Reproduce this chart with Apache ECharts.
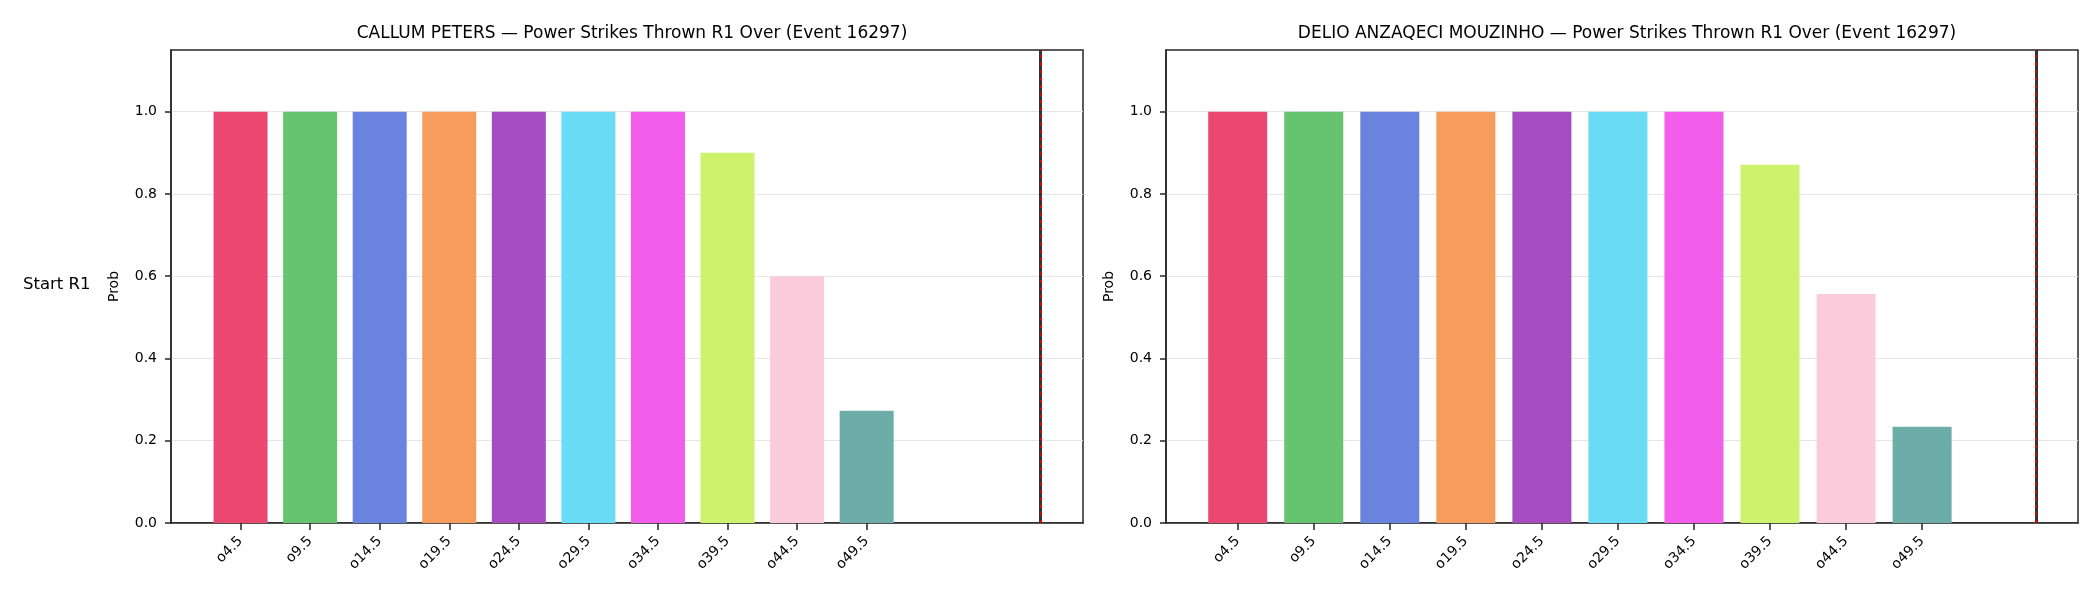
<!DOCTYPE html>
<html>
<head>
<meta charset="utf-8">
<script src="https://cdn.jsdelivr.net/npm/echarts@6/dist/echarts.min.js"></script>
<style>
  html, body { margin: 0; padding: 0; background: #fff; }
  #chart { width: 2100px; height: 600px; }
</style>
</head>
<body>
<div id="chart"></div>
<script>
// over lines (x-axis categories)
const thresholds = ['o4.5', 'o9.5', 'o14.5', 'o19.5', 'o24.5', 'o29.5', 'o34.5', 'o39.5', 'o44.5', 'o49.5'];
const callumProbs = [1.0, 1.0, 1.0, 1.0, 1.0, 1.0, 1.0, 0.9, 0.6, 0.273];
const delioProbs = [1.0, 1.0, 1.0, 1.0, 1.0, 1.0, 1.0, 0.871, 0.557, 0.234];
const barColors = ['#eb4871', '#66c470', '#6a83de', '#f69c5d', '#a54cc1',
                   '#69dbf4', '#f25dea', '#cef26b', '#f9cbdb', '#6dada7'];
const yTicks = [0, 0.2, 0.4, 0.6, 0.8, 1.0];
// where the dashed marker sits, in bar-index units
const callumMarker = 11.5;
const delioMarker = 10.5;

const FONT = 'DejaVu Sans';
const INK = '#262626';

const chart = echarts.init(document.getElementById('chart'));

function xAxisFor(gridIndex, min, max) {
  return {
    type: 'value',
    gridIndex,
    min, max,
    axisLine: { show: true, onZero: false, lineStyle: { color: INK, width: 1.5 } },
    axisTick: {
      show: true, length: 7, inside: false,
      customValues: thresholds.map((_, i) => i),
      lineStyle: { color: INK, width: 1.5 }
    },
    axisLabel: {
      customValues: thresholds.map((_, i) => i),
      formatter: v => thresholds[Math.round(v)],
      rotate: 45,
      margin: 16,
      color: '#000',
      fontFamily: FONT,
      fontSize: 14
    },
    splitLine: { show: false }
  };
}

function yAxisFor(gridIndex) {
  return {
    type: 'value',
    gridIndex,
    min: 0, max: 1.15, interval: 0.2,
    name: 'Prob',
    nameLocation: 'middle',
    nameGap: 50,
    nameTextStyle: { color: '#000', fontFamily: FONT, fontSize: 14 },
    axisLine: { show: true, onZero: false, lineStyle: { color: INK, width: 1.5 } },
    axisTick: {
      show: true, length: 6,
      customValues: yTicks,
      lineStyle: { color: INK, width: 1.5 }
    },
    axisLabel: {
      customValues: yTicks,
      formatter: v => v.toFixed(1),
      margin: 14,
      color: '#000',
      fontFamily: FONT,
      fontSize: 14
    },
    splitLine: { show: true, lineStyle: { color: '#e6e6e6', width: 1 } }
  };
}

function barSeries(idx, probs, marker, barWidth) {
  return {
    type: 'bar',
    xAxisIndex: idx,
    yAxisIndex: idx,
    barWidth,
    data: probs.map((p, i) => ({ value: [i, p], itemStyle: { color: barColors[i] } })),
    markLine: {
      silent: true,
      symbol: 'none',
      label: { show: false },
      data: [
        { xAxis: marker, lineStyle: { color: '#333', width: 3, type: 'solid' } },
        { xAxis: marker, lineStyle: { color: '#e00000', width: 2, type: [3, 4.5] } }
      ]
    }
  };
}

const option = {
  animation: false,
  backgroundColor: '#fff',
  title: [
    {
      text: 'CALLUM PETERS — Power Strikes Thrown R1 Over (Event 16297)',
      left: 627, top: 20, textAlign: 'center',
      textStyle: { color: '#000', fontFamily: FONT, fontSize: 17, fontWeight: 'normal' }
    },
    {
      text: 'DELIO ANZAQECI MOUZINHO — Power Strikes Thrown R1 Over (Event 16297)',
      left: 1622, top: 20, textAlign: 'center',
      textStyle: { color: '#000', fontFamily: FONT, fontSize: 17, fontWeight: 'normal' }
    }
  ],
  graphic: [
    {
      type: 'text',
      left: 23, top: 276,
      style: { text: 'Start R1', fill: '#000', font: '16.5px "DejaVu Sans"' }
    }
  ],
  grid: [
    { left: 171, top: 50, width: 912, height: 473, show: true, borderColor: INK, borderWidth: 1.5, containLabel: false },
    { left: 1166, top: 50, width: 912, height: 473, show: true, borderColor: INK, borderWidth: 1.5, containLabel: false }
  ],
  xAxis: [
    xAxisFor(0, -1.0, 12.11),
    xAxisFor(1, -0.943, 11.05)
  ],
  yAxis: [yAxisFor(0), yAxisFor(1)],
  series: [
    barSeries(0, callumProbs, callumMarker, 54),
    barSeries(1, delioProbs, delioMarker, 59)
  ]
};

chart.setOption(option);
window.addEventListener('resize', () => chart.resize());
</script>
</body>
</html>
